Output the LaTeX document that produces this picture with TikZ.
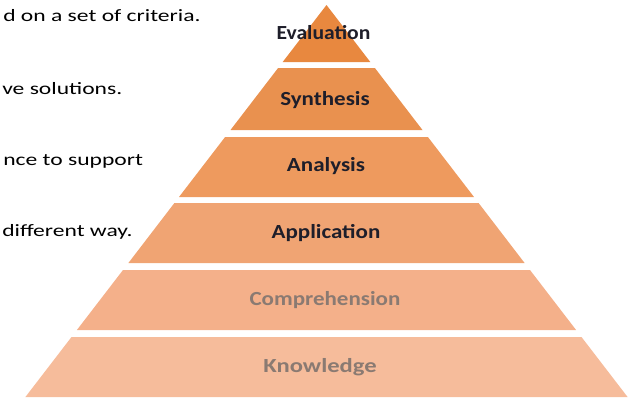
\documentclass[tikz,border=0pt]{standalone}
\usepackage{fontspec}
\setmainfont{Carlito}
\usepackage{graphicx}
\usepackage{xcolor}
\usepackage{tikz}
\definecolor{lvlsix}{HTML}{E8883F}
\definecolor{lvlfive}{HTML}{E9914F}
\definecolor{lvlfour}{HTML}{EE9A5E}
\definecolor{lvlthree}{HTML}{F0A473}
\definecolor{lvltwo}{HTML}{F4B08A}
\definecolor{lvlone}{HTML}{F6BC9B}
\definecolor{darkc}{HTML}{1E1E2A}
\definecolor{greyc}{HTML}{8A7A72}
\newcommand{\sidetext}[1]{\scalebox{1.36}[1]{#1}}
\newcommand{\tiername}[2][1.15]{\scalebox{#1}[1]{#2}}
\tikzset{
  side/.style={anchor=base west,inner sep=0pt,text=black,font=\fontsize{13}{15}\selectfont},
  tier/.style={anchor=base,inner sep=0pt,font=\fontsize{15}{17}\selectfont\bfseries,text=darkc},
  lowtier/.style={tier,text=greyc}
}
\begin{document}
\begin{tikzpicture}[x=0.75pt,y=-0.75pt]
\useasboundingbox (0,0) rectangle (633,401);
% layers, top to bottom
\fill[lvlsix] (326.5,5)--(370.3,62)--(282.7,62)--cycle;
\fill[lvlfive] (278.1,68)--(374.9,68)--(422.5,130)--(230.5,130)--cycle;
\fill[lvlfour] (225.1,137)--(427.9,137)--(474.0,197)--(179.0,197)--cycle;
\fill[lvlthree] (174.4,203)--(478.6,203)--(524.6,263)--(128.4,263)--cycle;
\fill[lvltwo] (123.0,270)--(530.0,270)--(576.1,330)--(76.9,330)--cycle;
\fill[lvlone] (71.5,337)--(581.5,337)--(627.6,397)--(25.4,397)--cycle;
% level names
\node[tier] (eval) at (323.5,39.5) {\tiername[1.08]{Evaluation}};
\node[tier] (synth) at (325,105.5) {\tiername{Synthesis}};
\node[tier] (anal) at (326,171.7) {\tiername{Analysis}};
\node[tier] (appl) at (326,238.5) {\tiername{Application}};
\node[lowtier] (compr) at (325,305.5) {\tiername{Comprehension}};
\node[lowtier] (know) at (320,372.5) {\tiername[1.23]{Knowledge}};
% text on the left
\node[side] (crit) at (3,21.7) {\sidetext{d on a set of criteria.}};
\node[side] (sol) at (2,94.5) {\sidetext{ve solutions.}};
\node[side] (supp) at (3,165) {\sidetext{nce to support}};
\node[side] (way) at (2,236.7) {\sidetext{different way.}};
\end{tikzpicture}
\end{document}
